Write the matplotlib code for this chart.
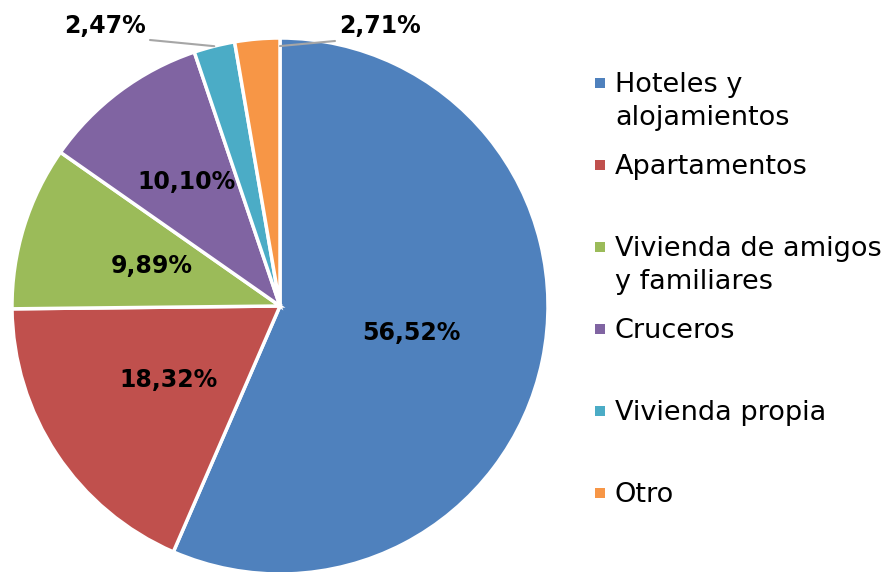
import numpy as np
import matplotlib
matplotlib.use("Agg")
import matplotlib.pyplot as plt
from matplotlib.patches import Rectangle

categories = ["Hoteles y\nalojamientos", "Apartamentos", "Vivienda de amigos\ny familiares",
              "Cruceros", "Vivienda propia", "Otro"]
values = [56.52, 18.32, 9.89, 10.10, 2.47, 2.71]
labels = ["56,52%", "18,32%", "9,89%", "10,10%", "2,47%", "2,71%"]
colors = ["#4F81BD", "#C0504D", "#9BBB59", "#8064A2", "#4BACC6", "#F79646"]

W, H = 890, 572
fig = plt.figure(figsize=(W/100, H/100), dpi=100)
cx, cy, R = 280, 306, 268
ax = fig.add_axes([(cx-R)/W, (H-(cy+R))/H, 2*R/W, 2*R/H])
wedges, _ = ax.pie(values, colors=colors, startangle=90, counterclock=False,
                   radius=1, wedgeprops=dict(edgecolor="white", linewidth=2.5))
ax.set_xlim(-1, 1); ax.set_ylim(-1, 1)
ax.set_aspect("auto")
ax.axis("off")

font = "DejaVu Sans"
lsize = 17
total = sum(values)
cum = np.cumsum([0] + values[:-1])
label_r = [0.5, 0.5, 0.5, 0.58]
for i in range(4):
    mid = 90 - 360 * (cum[i] + values[i] / 2) / total
    a = np.deg2rad(mid)
    ax.text(label_r[i]*np.cos(a), label_r[i]*np.sin(a), labels[i], ha="center", va="center",
            fontsize=lsize, fontweight="bold", family=font, color="black")

def px(x, y):
    return ((x-cx)/R, (cy-y)/R)

i = 4
mid = np.deg2rad(90 - 360 * (cum[i] + values[i] / 2) / total)
ax.annotate("", xy=(np.cos(mid), np.sin(mid)), xytext=px(150, 40),
            arrowprops=dict(arrowstyle="-", color="#A6A6A6", lw=1.5, shrinkA=0, shrinkB=0),
            annotation_clip=False)
ax.text(*px(146, 26), labels[i], ha="right", va="center", fontsize=lsize, fontweight="bold", family=font)
i = 5
end = np.deg2rad(90 - 360 * (cum[i] + values[i]) / total)
ax.annotate("", xy=(0.97*np.cos(end), 0.97*np.sin(end)), xytext=px(335, 41),
            arrowprops=dict(arrowstyle="-", color="#A6A6A6", lw=1.5, shrinkA=0, shrinkB=0),
            annotation_clip=False)
ax.text(*px(339, 26), labels[i], ha="left", va="center", fontsize=lsize, fontweight="bold", family=font)

# legend
for k, (cat, col) in enumerate(zip(categories, colors)):
    y = 83 + 82 * k
    fig.add_artist(Rectangle((595/W, (H-y-5)/H), 10/W, 10/H, transform=fig.transFigure,
                             facecolor=col, edgecolor="none"))
    fig.text(615/W, (H-y+11)/H, cat, ha="left", va="top", fontsize=19.5, family=font,
             color="black", linespacing=1.33)

fig.savefig("out.png", dpi=100)
